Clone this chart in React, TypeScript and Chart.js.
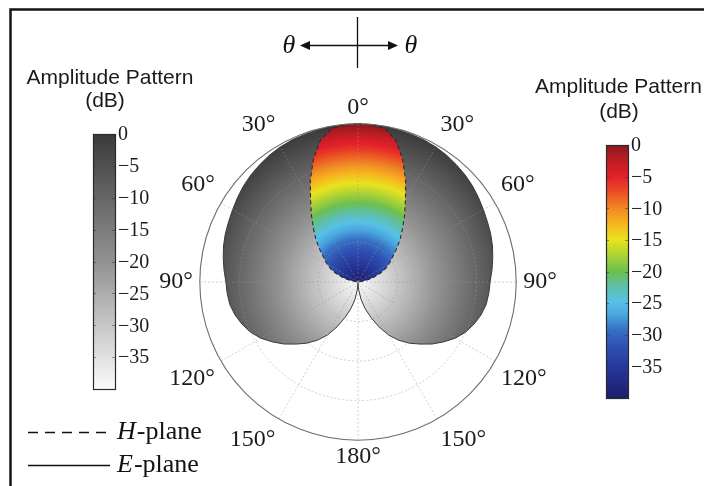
import React, { useEffect, useRef } from 'react';
import { Chart, registerables } from 'chart.js';

Chart.register(...registerables);

// ---- data -------------------------------------------------------------
const ANGLES = [
  0, 5, 10, 15, 20, 25, 30, 35, 40, 45, 50, 55, 60, 65, 70, 75, 80, 85,
  90, 95, 100, 105, 110, 115, 120, 125, 130, 135, 140, 145, 150, 155, 160, 165, 170, 175,
  180, 185, 190, 195, 200, 205, 210, 215, 220, 225, 230, 235, 240, 245, 250, 255, 260, 265,
  270, 275, 280, 285, 290, 295, 300, 305, 310, 315, 320, 325, 330, 335, 340, 345, 350, 355,
];

// E-plane amplitude pattern (dB), solid outline, grey fill
const E_PLANE = [
  0, 0, -0.1, -0.2, -0.3, -0.4, -0.6, -0.9, -1.3, -1.7, -2.2, -2.8, -3.4, -3.9, -4.3, -4.8, -5.4, -6.0,
  -6.6, -6.8, -7.1, -7.8, -8.8, -10.0, -11.6, -13.6, -15.6, -17.8, -19.8, -22.0, -24.5, -27.5, -30.5, -33.0, -35.5, -38.0,
  -40, -38.0, -35.5, -33.0, -30.5, -27.5, -24.5, -22.0, -19.8, -17.8, -15.6, -13.6, -11.6, -10.0, -8.8, -7.8, -7.1, -6.8,
  -6.6, -6.0, -5.4, -4.8, -4.3, -3.9, -3.4, -2.8, -2.2, -1.7, -1.3, -0.9, -0.6, -0.4, -0.3, -0.2, -0.1, 0,
];

// H-plane amplitude pattern (dB), dashed outline, jet fill
const H_PLANE = [
  0, -0.1, -0.6, -3.0, -7.0, -11.5, -16.0, -19.5, -22.5, -25.0, -27.5, -29.5, -31.0, -32.5, -34.5, -36.5, -38.3, -39.5,
  -40, -40, -40, -40, -40, -40, -40, -40, -40, -40, -40, -40, -40, -40, -40, -40, -40, -40,
  -40, -40, -40, -40, -40, -40, -40, -40, -40, -40, -40, -40, -40, -40, -40, -40, -40, -40,
  -40, -39.5, -38.3, -36.5, -34.5, -32.5, -31.0, -29.5, -27.5, -25.0, -22.5, -19.5, -16.0, -11.5, -7.0, -3.0, -0.6, -0.1,
];

const COLORBAR_TICKS = [0, -5, -10, -15, -20, -25, -30, -35];
const DB_MIN = -40;
const DB_MAX = 0;
const LABEL_STEP = 30;

// colour stops: t = 0 at -40 dB, t = 1 at 0 dB
const GRAY_STOPS: [number, string][] = [
  [0, '#fbfbfb'],
  [0.5, '#929292'],
  [1, '#3a3a3a'],
];
const JET_STOPS: [number, string][] = [
  [0.0, '#1d1e6c'],
  [0.1, '#253294'],
  [0.2, '#2e4fb0'],
  [0.27, '#3670c4'],
  [0.33, '#49a6df'],
  [0.38, '#58c1e6'],
  [0.45, '#5fbf9c'],
  [0.5, '#6cc04e'],
  [0.57, '#b2d432'],
  [0.625, '#e9e31f'],
  [0.69, '#f6b41f'],
  [0.75, '#f28822'],
  [0.82, '#eb4924'],
  [0.875, '#e2212a'],
  [0.94, '#bd1c24'],
  [1.0, '#861a1e'],
];

// ---- helpers ----------------------------------------------------------
function radialFill(stops: [number, string][], fallback: string) {
  return (c: any) => {
    const chart = c.chart;
    const s: any = chart.scales && chart.scales.r;
    if (!s || !s.drawingArea) return fallback;
    const g = chart.ctx.createRadialGradient(s.xCenter, s.yCenter, 0, s.xCenter, s.yCenter, s.drawingArea);
    stops.forEach(([t, col]) => g.addColorStop(t, col));
    return g;
  };
}

function drawColorbar(
  ctx: CanvasRenderingContext2D,
  x: number, y: number, w: number, h: number,
  stops: [number, string][],
) {
  const g = ctx.createLinearGradient(0, y + h, 0, y);
  stops.forEach(([t, col]) => g.addColorStop(t, col));
  ctx.fillStyle = g;
  ctx.fillRect(x, y, w, h);
  // tick marks
  ctx.strokeStyle = 'rgba(40,40,40,0.45)';
  ctx.lineWidth = 1;
  COLORBAR_TICKS.forEach((v) => {
    const ty = Math.round(y + ((DB_MAX - v) / (DB_MAX - DB_MIN)) * h) + 0.5;
    ctx.beginPath();
    ctx.moveTo(x, ty); ctx.lineTo(x + 3, ty);
    ctx.moveTo(x + w - 3, ty); ctx.lineTo(x + w, ty);
    ctx.stroke();
  });
  ctx.strokeStyle = '#2a2a2a';
  ctx.lineWidth = 1.2;
  ctx.strokeRect(x + 0.5, y + 0.5, w, h);
  // labels
  ctx.fillStyle = '#1a1a1a';
  ctx.font = '20px "Liberation Serif", serif';
  ctx.textAlign = 'left';
  ctx.textBaseline = 'middle';
  COLORBAR_TICKS.forEach((v) => {
    const ty = y + ((DB_MAX - v) / (DB_MAX - DB_MIN)) * h;
    const txt = v === 0 ? '0' : '\u2212' + Math.abs(v);
    ctx.fillText(txt, x + w + 3, ty + 1);
  });
}

const decorPlugin = {
  id: 'decor',
  afterDraw(chart: any) {
    const ctx: CanvasRenderingContext2D = chart.ctx;
    ctx.save();

    // frame
    ctx.strokeStyle = '#151515';
    ctx.lineWidth = 2.5;
    ctx.strokeRect(10.5, 9.5, 760, 560);

    // header: theta <-> theta with cross
    ctx.fillStyle = '#111';
    ctx.strokeStyle = '#111';
    ctx.font = 'italic 26px "Liberation Serif", serif';
    ctx.textAlign = 'center';
    ctx.textBaseline = 'middle';
    ctx.fillText('\u03B8', 289, 46);
    ctx.fillText('\u03B8', 411, 46);
    ctx.lineWidth = 1.3;
    ctx.beginPath();
    ctx.moveTo(308, 45.5); ctx.lineTo(390, 45.5);
    ctx.moveTo(357.5, 17); ctx.lineTo(357.5, 68);
    ctx.stroke();
    ctx.beginPath();
    ctx.moveTo(300, 45.5); ctx.lineTo(310, 41); ctx.lineTo(310, 50); ctx.closePath();
    ctx.moveTo(398, 45.5); ctx.lineTo(388, 41); ctx.lineTo(388, 50); ctx.closePath();
    ctx.fill();

    // colour bar titles
    ctx.fillStyle = '#1a1a1a';
    ctx.font = '21px "Liberation Sans", Arial, sans-serif';
    ctx.textAlign = 'center';
    ctx.fillText('Amplitude Pattern', 110, 78);
    ctx.fillText('(dB)', 105, 101);
    ctx.textAlign = 'left';
    ctx.fillText('Amplitude Pattern', 535, 87);
    ctx.textAlign = 'center';
    ctx.fillText('(dB)', 619, 112);

    drawColorbar(ctx, 93, 134, 22, 255, GRAY_STOPS);
    drawColorbar(ctx, 606, 145, 22, 253, JET_STOPS);

    // legend
    ctx.strokeStyle = '#111';
    ctx.lineWidth = 1.6;
    ctx.setLineDash([10, 7]);
    ctx.beginPath();
    ctx.moveTo(28, 432.5); ctx.lineTo(112, 432.5);
    ctx.stroke();
    ctx.setLineDash([]);
    ctx.beginPath();
    ctx.moveTo(28, 465.5); ctx.lineTo(110, 465.5);
    ctx.stroke();
    ctx.fillStyle = '#111';
    ctx.textAlign = 'left';
    ctx.textBaseline = 'middle';
    const legendRows: [string, number][] = [['H', 432], ['E', 465]];
    legendRows.forEach(([letter, ly]) => {
      ctx.font = 'italic 26px "Liberation Serif", serif';
      ctx.fillText(letter, 117, ly);
      const lw = ctx.measureText(letter).width;
      ctx.font = '26px "Liberation Serif", serif';
      ctx.fillText('-plane', 117 + lw + 1, ly);
    });

    ctx.restore();
  },
};

// ---- component ---------------------------------------------------------
export default function App() {
  const ref = useRef<HTMLCanvasElement | null>(null);

  useEffect(() => {
    if (!ref.current) return;
    const isMajor = (i: number) => ANGLES[i] % LABEL_STEP === 0;
    const chart = new Chart(ref.current, {
      type: 'radar',
      data: {
        labels: ANGLES,
        datasets: [
          {
            label: 'H-plane',
            data: H_PLANE,
            order: 1,
            fill: 'start',
            backgroundColor: radialFill(JET_STOPS, '#e22'),
            borderColor: '#2b2b2b',
            borderWidth: 1.1,
            borderDash: [4, 3],
            pointRadius: 0,
            pointHoverRadius: 0,
            tension: 0,
          },
          {
            label: 'E-plane',
            data: E_PLANE,
            order: 2,
            fill: 'start',
            backgroundColor: radialFill(GRAY_STOPS, '#888'),
            borderColor: '#3a3a3a',
            borderWidth: 1,
            pointRadius: 0,
            pointHoverRadius: 0,
            tension: 0,
          },
        ],
      },
      options: {
        responsive: false,
        maintainAspectRatio: false,
        animation: false,
        devicePixelRatio: 1,
        layout: { padding: { left: 120, right: 108, top: 94, bottom: 14 } },
        plugins: {
          legend: { display: false },
          tooltip: { enabled: false },
          title: { display: false },
        },
        scales: {
          r: {
            min: DB_MIN,
            max: DB_MAX,
            startAngle: 0,
            ticks: { display: false, stepSize: 10 },
            grid: {
              z: 1,
              circular: true,
              color: (c: any) => (c.tick && c.tick.value === DB_MAX ? '#6f6f6f' : 'rgba(150,150,150,0.45)'),
              lineWidth: (c: any) => (c.tick && c.tick.value === DB_MAX ? 1.1 : 1),
              borderDash: (c: any) => (c.tick && c.tick.value === DB_MAX ? [] : [2, 2]),
            },
            border: {
              dash: (c: any) => (c.tick && c.tick.value === DB_MAX ? [] : [2, 2]),
            },
            angleLines: {
              display: true,
              color: (c: any) => (isMajor(c.index) ? 'rgba(150,150,150,0.45)' : 'rgba(0,0,0,0)'),
              lineWidth: (c: any) => (isMajor(c.index) ? 1 : 0),
              borderDash: [2, 2],
            },
            pointLabels: {
              display: true,
              color: '#1a1a1a',
              padding: (c: any) => {
                const a = ANGLES[c.index];
                if (!isMajor(c.index)) return 0;
                return a === 0 || a === 180 ? 2 : 7;
              },
              font: (c: any) => ({
                family: '"Liberation Serif", serif',
                size: isMajor(c.index) ? 24 : 1,
              }),
              callback: (label: any, index: number) => {
                const a = ANGLES[index];
                if (a % LABEL_STEP !== 0) return '';
                return (a <= 180 ? a : 360 - a) + '\u00B0';
              },
            },
          },
        },
      },
      plugins: [decorPlugin],
    });
    return () => chart.destroy();
  }, []);

  return (
    <div style={{ position: 'fixed', left: 0, top: 0, width: 704, height: 486, background: '#fff' }}>
      <canvas ref={ref} width={704} height={486} style={{ display: 'block', width: 704, height: 486 }} />
    </div>
  );
}
